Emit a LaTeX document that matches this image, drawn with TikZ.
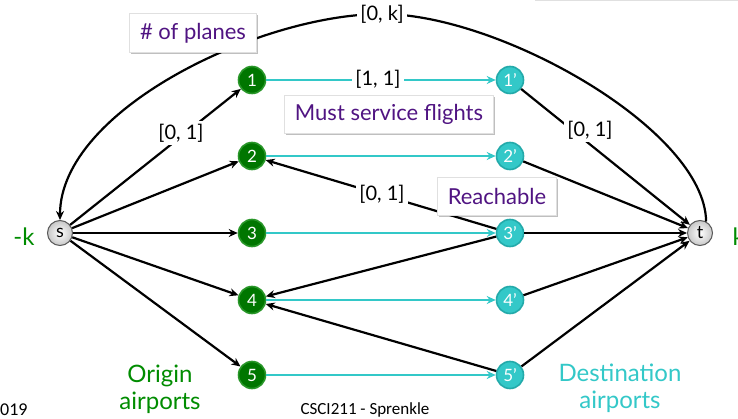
\documentclass[tikz,border=0pt]{standalone}
\usepackage{fontspec}
\setmainfont{Lato}
\newfontfamily\footfont{Carlito}
\usetikzlibrary{arrows.meta,shadows}
\definecolor{ngreen}{RGB}{0,118,0}
\definecolor{ngreenb}{RGB}{40,150,40}
\definecolor{nteal}{RGB}{51,200,200}
\definecolor{ntealb}{RGB}{35,170,170}
\definecolor{purp}{RGB}{80,20,130}
\definecolor{lgreen}{RGB}{0,140,0}
\tikzset{
  orig/.style={circle, fill=ngreen, draw=ngreenb, line width=1.6pt, minimum size=27pt, inner sep=0pt, text=white, font=\fontsize{17}{17}\selectfont},
  dest/.style={circle, fill=nteal, draw=ntealb, line width=1.6pt, minimum size=27pt, inner sep=0pt, text=white, font=\fontsize{17}{17}\selectfont},
  term/.style={circle, draw=black!65, line width=1pt, inner color=white, outer color=black!22, minimum size=25pt, inner sep=0pt, font=\fontsize{18}{18}\selectfont},
  arr/.style={-{Stealth[length=9pt,width=8pt]}, line width=2.2pt, draw=black},
  flow/.style={-{Stealth[length=9pt,width=8pt]}, line width=2.8pt, draw=nteal, color=nteal},
  lbl/.style={fill=white, inner sep=3pt, font=\fontsize{20}{20}\selectfont},
  callout/.style={fill=white, draw=black!12, line width=0.5pt, text=purp, font=\fontsize{22}{22}\selectfont, inner sep=0pt,
    drop shadow={shadow xshift=1.5pt, shadow yshift=-2pt, opacity=0.25, fill=black}},
  side/.style={font=\fontsize{24}{27}\selectfont, align=center}
}
\begin{document}
\begin{tikzpicture}[x=1pt,y=-1pt]
\useasboundingbox (0,0) rectangle (738,419);
\fill[white] (0,0) rectangle (738,419);
\draw[black!12, line width=1pt] (535,0.5) -- (738,0.5);

% nodes
\node[term] (s) at (60,233) {s};
\node[term] (t) at (700,233) {t};
\foreach \i/\y in {1/80,2/156,3/233,4/300,5/375}{
  \node[orig] (o\i) at (252,\y) {\i};
  \node[dest] (d\i) at (510,\y) {\i'};
}

% source edges
\foreach \i in {1,...,5}{ \draw[arr] (s) -- (o\i); }
% flights
\foreach \i in {1,...,5}{ \draw[flow] (o\i) -- (d\i); }
% to sink
\foreach \i in {1,...,5}{ \draw[arr] (d\i) -- (t); }
% reachable
\draw[arr] (d3) -- (o2);
\draw[arr] (d3) -- (o4);
\draw[arr] (d5) -- (o4);

% big arc
\draw[arr] (t.62) .. controls (705,130) and (500,14) .. (382,14) coordinate (top)
  .. controls (260,14) and (60,110) .. (s.north);

% edge labels
\node[lbl] (lk) at (382,14) {[0, k]};
\node[lbl] (l11) at (378,79) {[1, 1]};
\node[lbl] (ls1) at (181,133) {[0, 1]};
\node[lbl] (l1t) at (590,130) {[0, 1]};
\node[lbl] (l32) at (382,194) {[0, 1]};

% callouts
\node[callout, minimum width=127pt, minimum height=39pt] (cp) at (193,33) {\# of planes};
\node[callout, minimum width=209pt, minimum height=38pt] (cm) at (389,114) {Must service flights};
\node[callout, minimum width=119pt, minimum height=38pt] (cr) at (497,196) {Reachable};

% side labels
\node[side, text=lgreen, anchor=east] (mk) at (38,237) {-k};
\node[side, text=lgreen, anchor=west] (pk) at (729,237) {k};
\node[side, text=lgreen] (orl) at (160,389) {Origin\\airports};
\node[side, text=nteal] (dsl) at (620,388) {Destination\\airports};

% footer
\node[font=\footfont\fontsize{18}{18}\selectfont, anchor=west, inner sep=0pt] (f1) at (0,410) {019};
\node[font=\footfont\fontsize{17}{17}\selectfont, inner sep=0pt] (f2) at (365,410) {CSCI211 - Sprenkle};
\end{tikzpicture}
\end{document}
